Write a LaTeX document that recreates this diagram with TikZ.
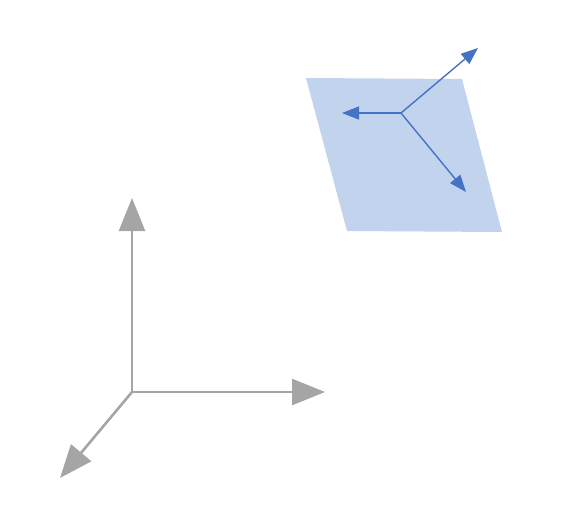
\documentclass[tikz,border=0pt]{standalone}
\usetikzlibrary{arrows.meta}
\definecolor{axisgray}{RGB}{165,165,165}
\definecolor{planeblue}{RGB}{194,211,238}
\definecolor{vecblue}{RGB}{68,114,196}
\tikzset{
  grayaxis/.style={draw=axisgray, line width=2.6pt, -{Triangle[length=33pt,width=26pt]}},
  bluevec/.style={draw=vecblue, line width=1.4pt, -{Triangle[length=17pt,width=13pt]}}
}
\begin{document}
\begin{tikzpicture}[x=1pt,y=-1pt]
\useasboundingbox (0,0) rectangle (585,517);
% plane
\fill[planeblue] (306,78) -- (462,79) -- (502,232) -- (347,231) -- cycle;
% blue vectors
\coordinate (c) at (401,113);
\coordinate (bl) at (342,113);
\coordinate (bu) at (478,48);
\coordinate (bd) at (466,192);
\draw[bluevec] (c) -- (bl);
\draw[bluevec] (c) -- (bu);
\draw[bluevec] (c) -- (bd);
% gray axes
\coordinate (o) at (132,392);
\coordinate (ay) at (132,198);
\coordinate (ax) at (325,392);
\coordinate (az) at (60,478);
\draw[grayaxis] (o) -- (ay);
\draw[grayaxis] (o) -- (ax);
\draw[grayaxis] (o) -- (az);
\end{tikzpicture}
\end{document}
